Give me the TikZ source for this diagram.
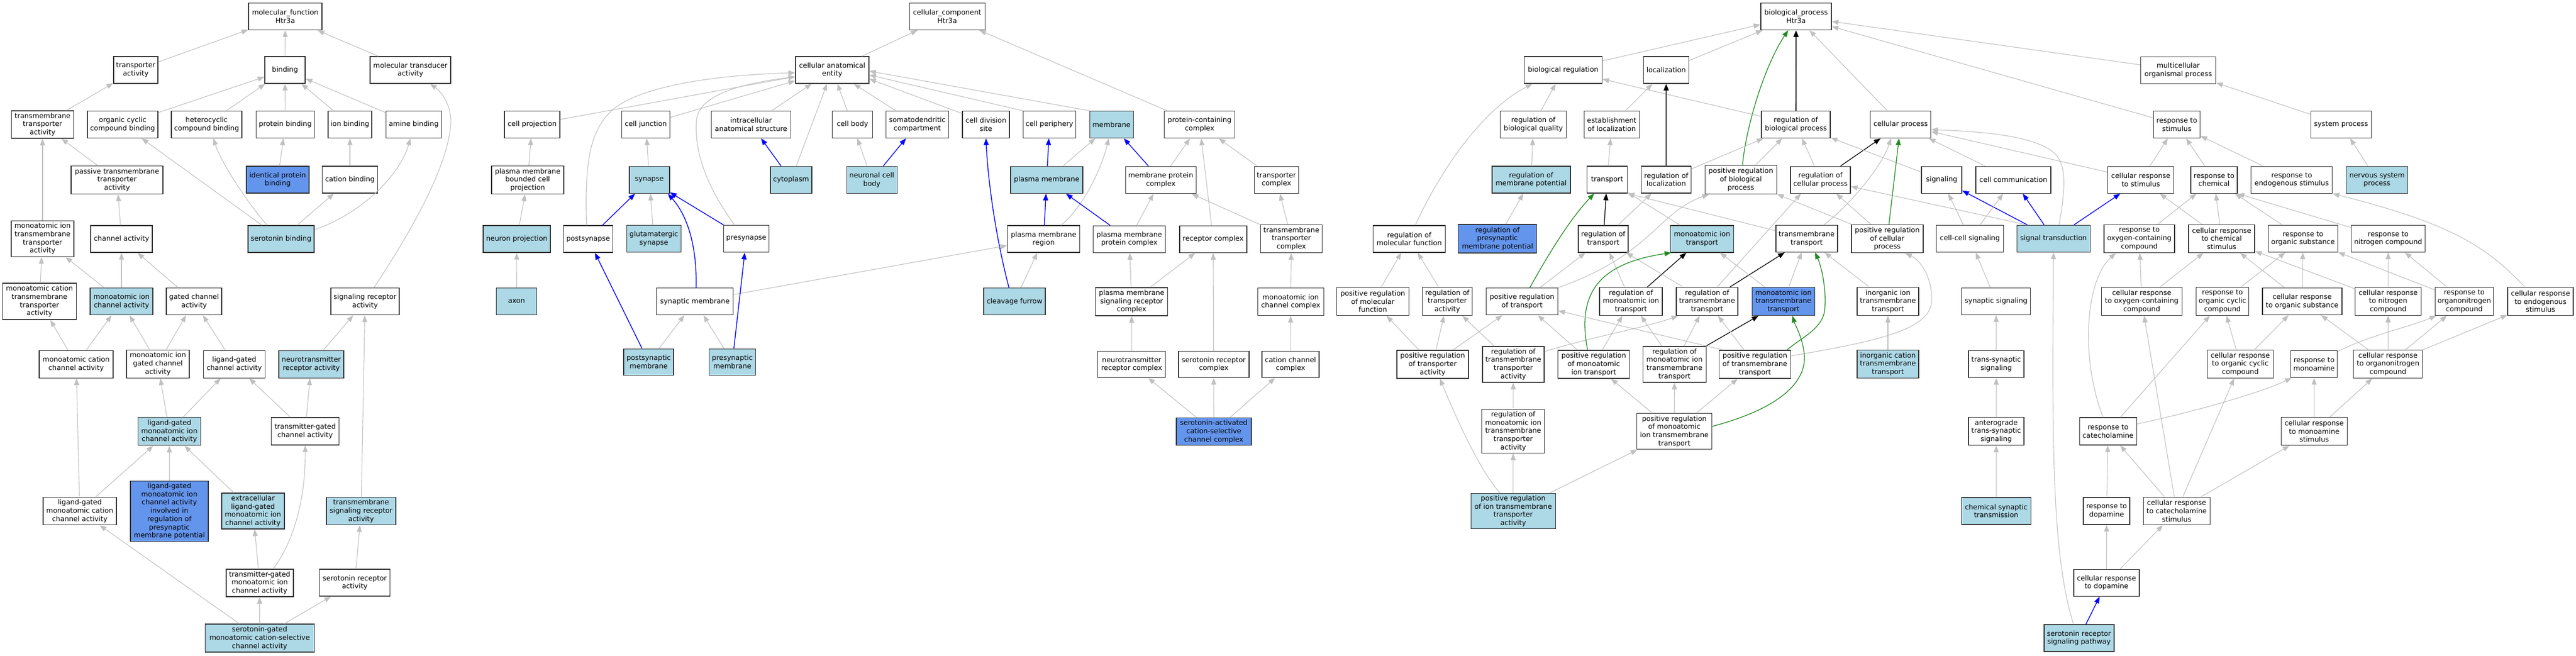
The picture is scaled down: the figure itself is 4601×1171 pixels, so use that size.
\documentclass[tikz,border=0pt]{standalone}
\usepackage{fontspec}
\setmainfont{DejaVu Sans}
\usetikzlibrary{arrows.meta}
\definecolor{lblue}{HTML}{ADD8E6}
\definecolor{cblue}{HTML}{6495ED}
\definecolor{egray}{RGB}{192,192,192}
\definecolor{fgreen}{HTML}{228B22}
\newcommand\GN[7]{\node[box,#7,minimum width=#4,minimum height=#5] (#1) at (#2,#3) {#6};}
\tikzset{
 box/.style={draw=black!80, line width=1.4pt, fill=white, align=center, inner xsep=1pt, inner ysep=0pt, font=\fontsize{12.4}{14.7}\selectfont, text=black},
 lb/.style={fill=lblue}, db/.style={fill=cblue},
 ge/.style={draw=egray, line width=1.1pt, -{Triangle[length=12pt,width=9pt]}},
 be/.style={draw=blue, line width=1.4pt, -{Triangle[length=12pt,width=9pt]}},
 ke/.style={draw=black, line width=1.3pt, -{Triangle[length=12pt,width=9pt]}},
 kk/.style={draw=black!70, line width=2.4pt, -{Triangle[length=12pt,width=9pt,color=black]}},
 gre/.style={draw=fgreen, line width=1.3pt, -{Triangle[length=12pt,width=9pt]}},
}
\begin{document}
\begin{tikzpicture}[x=1pt,y=-1pt]
\fill[white] (0,0) rectangle (4601,1171);
\useasboundingbox (0,0) rectangle (4601,1171);
% ---------------- molecular function
\GN{mf}{509.5}{29.5}{131}{48}{molecular\_function\\Htr3a}{}
\GN{ta}{242.5}{125}{79}{48}{transporter\\activity}{}
\GN{bind}{509}{125}{72}{48}{binding}{}
\GN{mta}{733}{125}{144}{48}{molecular transducer\\activity}{}
\GN{tmta}{76}{222.5}{111}{49}{transmembrane\\transporter\\activity}{}
\GN{occb}{219}{222.5}{126}{48}{organic cyclic\\compound binding}{}
\GN{hcb}{369}{222.5}{126}{48}{heterocyclic\\compound binding}{}
\GN{pb}{509.5}{222.5}{104}{48}{protein binding}{}
\GN{ionb}{625}{222.5}{78}{48}{ion binding}{}
\GN{amb}{739}{222.5}{99}{48}{amine binding}{}
\GN{ptta}{209}{321.5}{164}{50}{passive transmembrane\\transporter\\activity}{}
\GN{ipb}{496}{321}{112}{48}{identical protein\\binding}{db}
\GN{cb}{625}{321}{99}{48}{cation binding}{}
\GN{mitta}{76}{426.5}{112}{64}{monoatomic ion\\transmembrane\\transporter\\activity}{}
\GN{ca}{217}{427}{110}{48}{channel activity}{}
\GN{sb}{502}{427}{118}{48}{serotonin binding}{lb}
\GN{sra}{652}{538.6}{122}{48}{signaling receptor\\activity}{}
\GN{mctta}{70.5}{538.5}{132}{65}{monoatomic cation\\transmembrane\\transporter\\activity}{}
\GN{mica}{217}{538.6}{112}{48}{monoatomic ion\\channel activity}{lb}
\GN{gca}{346.6}{538.6}{99}{48}{gated channel\\activity}{}
\GN{mcca}{136}{650.7}{132}{49}{monoatomic cation\\channel activity}{}
\GN{migca}{282}{650.2}{112}{50}{monoatomic ion\\gated channel\\activity}{}
\GN{lgca}{418.4}{650.7}{110}{49}{ligand-gated\\channel activity}{}
\GN{nra}{556}{650.7}{116}{49}{neurotransmitter\\receptor activity}{lb}
\GN{lgmica}{302.5}{770.7}{112}{50}{ligand-gated\\monoatomic ion\\channel activity}{lb}
\GN{tgca}{545}{770.5}{121}{49}{transmitter-gated\\channel activity}{}
\GN{lgmcca}{142.5}{913}{131}{49}{ligand-gated\\monoatomic cation\\channel activity}{}
\GN{lgpre}{302.5}{913.2}{139}{108}{ligand-gated\\monoatomic ion\\channel activity\\involved in\\regulation of\\presynaptic\\membrane potential}{db}
\GN{elg}{451.8}{913}{112}{64}{extracellular\\ligand-gated\\monoatomic ion\\channel activity}{lb}
\GN{tsra}{645}{913}{124}{49}{transmembrane\\signaling receptor\\activity}{lb}
\GN{tgmica}{463.8}{1041.5}{120}{49}{transmitter-gated\\monoatomic ion\\channel activity}{}
\GN{srat}{633.6}{1041}{126}{48}{serotonin receptor\\activity}{}
\GN{sgm}{463.7}{1140}{195}{50}{serotonin-gated\\monoatomic cation-selective\\channel activity}{lb}
% ---------------- cellular component
\GN{cc}{1691.7}{29.3}{135}{48}{cellular\_component\\Htr3a}{}
\GN{cae}{1486.4}{125}{131}{48}{cellular anatomical\\entity}{}
\GN{pcc}{2142.6}{222.7}{126}{48}{protein-containing\\complex}{}
\GN{cp}{950.5}{222.5}{99}{48}{cell projection}{}
\GN{cj}{1153.5}{222.5}{86}{48}{cell junction}{}
\GN{ias}{1341.5}{222.5}{142}{48}{intracellular\\anatomical structure}{}
\GN{cbody}{1522.6}{222.5}{72}{48}{cell body}{}
\GN{sdc}{1638.4}{222.5}{112}{48}{somatodendritic\\compartment}{}
\GN{cds}{1761}{222.5}{84}{48}{cell division\\site}{}
\GN{cper}{1874.5}{222.5}{94}{48}{cell periphery}{}
\GN{mem}{1985.3}{222.5}{78}{48}{membrane}{lb}
\GN{pmbcp}{942.5}{321.5}{129}{50}{plasma membrane\\bounded cell\\projection}{}
\GN{syn}{1159.8}{321.3}{72}{48}{synapse}{lb}
\GN{cyto}{1413}{321.3}{74}{48}{cytoplasm}{lb}
\GN{ncb}{1557.2}{321.3}{90}{48}{neuronal cell\\body}{lb}
\GN{pm}{1869.5}{321.3}{129}{48}{plasma membrane}{lb}
\GN{mpc}{2073.3}{321.5}{126}{48}{membrane protein\\complex}{}
\GN{tc}{2279.8}{321.5}{79}{48}{transporter\\complex}{}
\GN{np}{923}{427}{120}{48}{neuron projection}{lb}
\GN{postsyn}{1050.5}{427}{88}{48}{postsynapse}{}
\GN{gs}{1167.8}{426.7}{97}{48}{glutamatergic\\synapse}{lb}
\GN{presyn}{1333}{426.7}{81}{48}{presynapse}{}
\GN{pmr}{1864}{427}{129}{48}{plasma membrane\\region}{}
\GN{pmpc}{2017.1}{427.2}{129}{48}{plasma membrane\\protein complex}{}
\GN{rc}{2166.8}{427.2}{120}{48}{receptor complex}{}
\GN{tmtc}{2306.5}{426.3}{110}{50}{transmembrane\\transporter\\complex}{}
\GN{axon}{922.6}{538.6}{72}{48}{axon}{lb}
\GN{synm}{1241.2}{538.6}{137}{48}{synaptic membrane}{}
\GN{cf}{1812.1}{538.6}{110}{48}{cleavage furrow}{lb}
\GN{pmsrc}{2021.2}{538.8}{129}{50}{plasma membrane\\signaling receptor\\complex}{}
\GN{micc}{2305.3}{539}{118}{49}{monoatomic ion\\channel complex}{}
\GN{postm}{1158.6}{646.7}{89}{47}{postsynaptic\\membrane}{lb}
\GN{prem}{1308}{646.7}{83}{47}{presynaptic\\membrane}{lb}
\GN{nrc}{2021.2}{651}{121}{47}{neurotransmitter\\receptor complex}{}
\GN{src}{2167.8}{651}{126}{47}{serotonin receptor\\complex}{}
\GN{ccc}{2305}{651}{102}{47}{cation channel\\complex}{}
\GN{sacc}{2168}{771.2}{134}{49}{serotonin-activated\\cation-selective\\channel complex}{db}
% ---------------- biological process
\GN{bp}{3207.9}{29.3}{126}{48}{biological\_process\\Htr3a}{}
\GN{breg}{2792}{125}{139}{48}{biological regulation}{}
\GN{loc}{2975.9}{125}{81}{48}{localization}{}
\GN{mop}{3890.5}{125.3}{134}{48}{multicellular\\organismal process}{}
\GN{rbq}{2738.7}{222.6}{118}{48}{regulation of\\biological quality}{}
\GN{eol}{2878.7}{222.6}{99}{48}{establishment\\of localization}{}
\GN{rbp}{3207.6}{222.5}{123}{48}{regulation of\\biological process}{}
\GN{cpr}{3394.7}{222.5}{108}{48}{cellular process}{}
\GN{rts}{3888}{222.5}{83}{48}{response to\\stimulus}{}
\GN{sp}{4181.3}{222.5}{108}{48}{system process}{}
\GN{rmp}{2734.8}{321}{140}{48}{regulation of\\membrane potential}{lb}
\GN{trans}{2870.5}{321}{72}{48}{transport}{}
\GN{rl}{2976}{321}{89}{48}{regulation of\\localization}{}
\GN{prbp}{3109.3}{321}{128}{51}{positive regulation\\of biological\\process}{}
\GN{rcp}{3251.6}{321.3}{107}{48}{regulation of\\cellular process}{}
\GN{sig}{3468.1}{321.3}{72}{48}{signaling}{}
\GN{ccom}{3596}{321.3}{134}{48}{cell communication}{}
\GN{crs}{3823.7}{321.3}{118}{48}{cellular response\\to stimulus}{}
\GN{rchem}{3954.5}{321.3}{83}{48}{response to\\chemical}{}
\GN{res}{4093.2}{321.3}{145}{48}{response to\\endogenous stimulus}{}
\GN{nsp}{4245.5}{321.3}{110}{48}{nervous system\\process}{lb}
\GN{rmf}{2517}{426.8}{129}{48}{regulation of\\molecular function}{}
\GN{rpmp}{2674.7}{426.4}{140}{51}{regulation of\\presynaptic\\membrane potential}{db}
\GN{rt}{2863.6}{426.8}{89}{48}{regulation of\\transport}{}
\GN{mit}{3040}{426.8}{113}{48}{monoatomic ion\\transport}{lb}
\GN{tt}{3226.8}{426.3}{110}{48}{transmembrane\\transport}{}
\GN{prcp}{3370.8}{426.6}{128}{50}{positive regulation\\of cellular\\process}{}
\GN{ccs}{3518.4}{426.3}{120}{48}{cell-cell signaling}{}
\GN{st}{3667.8}{426.3}{131}{48}{signal transduction}{lb}
\GN{roc}{3821}{426.3}{126}{50}{response to\\oxygen-containing\\compound}{}
\GN{crcs}{3968.1}{426.3}{118}{50}{cellular response\\to chemical\\stimulus}{}
\GN{ros}{4113.4}{426.3}{124}{48}{response to\\organic substance}{}
\GN{rnc}{4265.5}{426.3}{132}{48}{response to\\nitrogen compound}{}
\GN{prmf}{2452}{538.6}{129}{50}{positive regulation\\of molecular\\function}{}
\GN{rta}{2585}{538.5}{89}{50}{regulation of\\transporter\\activity}{}
\GN{prt}{2718.5}{538.5}{128}{48}{positive regulation\\of transport}{}
\GN{rmit}{2913}{538.5}{112}{50}{regulation of\\monoatomic ion\\transport}{}
\GN{rtt}{3049}{538.5}{110}{50}{regulation of\\transmembrane\\transport}{}
\GN{mitt}{3185.4}{538.4}{112}{50}{monoatomic ion\\transmembrane\\transport}{db}
\GN{iitt}{3372}{538.4}{110}{50}{inorganic ion\\transmembrane\\transport}{}
\GN{ss}{3565.2}{538.4}{123}{48}{synaptic signaling}{}
\GN{crocc}{3825.3}{538.4}{144}{50}{cellular response\\to oxygen-containing\\compound}{}
\GN{rocc}{3969.5}{538.4}{94}{50}{response to\\organic cyclic\\compound}{}
\GN{cros}{4111.8}{538.4}{142}{48}{cellular response\\to organic substance}{}
\GN{crnc}{4265.5}{538.4}{118}{50}{cellular response\\to nitrogen\\compound}{}
\GN{rono}{4401.4}{538.4}{104}{50}{response to\\organonitrogen\\compound}{}
\GN{cres}{4537.6}{538.4}{117}{50}{cellular response\\to endogenous\\stimulus}{}
\GN{prta}{2558.8}{650.9}{128}{50}{positive regulation\\of transporter\\activity}{}
\GN{rtta}{2702.9}{650.8}{110}{64}{regulation of\\transmembrane\\transporter\\activity}{}
\GN{prmit}{2846.6}{650.9}{128}{50}{positive regulation\\of monoatomic\\ion transport}{}
\GN{rmitt}{2990.8}{650.8}{113}{64}{regulation of\\monoatomic ion\\transmembrane\\transport}{}
\GN{prtt}{3134.5}{650.9}{128}{50}{positive regulation\\of transmembrane\\transport}{}
\GN{icitt}{3372}{650.5}{110}{50}{inorganic cation\\transmembrane\\transport}{lb}
\GN{tss}{3565.4}{650.7}{99}{48}{trans-synaptic\\signaling}{}
\GN{croccomp}{4001.4}{650.5}{118}{50}{cellular response\\to organic cyclic\\compound}{}
\GN{rmono}{4133.2}{650.5}{83}{48}{response to\\monoamine}{}
\GN{crono}{4265.2}{650.5}{123}{50}{cellular response\\to organonitrogen\\compound}{}
\GN{rmitta}{2702.7}{770.3}{112}{78}{regulation of\\monoatomic ion\\transmembrane\\transporter\\activity}{}
\GN{prmitt}{2990.5}{770.7}{134}{64}{positive regulation\\of monoatomic\\ion transmembrane\\transport}{}
\GN{ats}{3565.4}{770.5}{99}{50}{anterograde\\trans-synaptic\\signaling}{}
\GN{rcat}{3765.2}{770.5}{102}{49}{response to\\catecholamine}{}
\GN{crms}{4133.4}{770.4}{118}{50}{cellular response\\to monoamine\\stimulus}{}
\GN{pritta}{2702.7}{913}{151}{63}{positive regulation\\of ion transmembrane\\transporter\\activity}{lb}
\GN{cst}{3565.4}{913}{124}{48}{chemical synaptic\\transmission}{lb}
\GN{rdop}{3762.6}{913}{83}{48}{response to\\dopamine}{}
\GN{crcat}{3887.7}{913}{119}{49}{cellular response\\to catecholamine\\stimulus}{}
\GN{crdop}{3762.4}{1041.2}{117}{48}{cellular response\\to dopamine}{}
\GN{srsp}{3713.3}{1140}{125}{48}{serotonin receptor\\signaling pathway}{lb}
% ================= edges: molecular function
\draw[ge] (ta) -- (mf);
\draw[ge] (bind) -- (mf);
\draw[ge] (mta) -- (mf);
\draw[ge] (tmta) -- (ta);
\draw[ge] (occb) -- (bind);
\draw[ge] (hcb) -- (bind);
\draw[ge] (pb) -- (bind);
\draw[ge] (ionb) -- (bind);
\draw[ge] (amb) -- (bind);
\draw[ge] (ptta) -- (tmta);
\draw[ge] (ipb) -- (pb);
\draw[ge] (cb) -- (ionb);
\draw[ge] (mitta) -- (tmta);
\draw[ge] (ca) -- (ptta);
\draw[ge] (sb) -- (occb);
\draw[ge] ([xshift=-25pt]sb.north) .. controls (440,360) and (395,290) .. ([xshift=12pt]hcb.south);
\draw[ge] (sb) -- (cb);
\draw[ge] ([yshift=-8pt]sb.north east) .. controls (650,380) and (715,310) .. ([xshift=-6pt]amb.south);
\draw[ge] (mctta) -- (mitta);
\draw[ge] (mica) -- (mitta);
\draw[ge] (mica) -- (ca);
\draw[ge] (gca) -- (ca);
\draw[ge] ([xshift=16pt]sra.north) .. controls (730,420) and (800,300) .. (805,222) .. controls (807,190) and (790,165) .. ([xshift=35pt]mta.south);
\draw[ge] (mcca) -- (mctta);
\draw[ge] (mcca) -- (mica);
\draw[ge] (migca) -- (mica);
\draw[ge] (migca) -- (gca);
\draw[ge] (lgca) -- (gca);
\draw[ge] (nra) -- (sra);
\draw[ge] (lgmica) -- (migca);
\draw[ge] (lgmica) -- (lgca);
\draw[ge] (tgca) -- (lgca);
\draw[ge] (tgca) -- (nra);
\draw[ge] (lgmcca) -- (mcca);
\draw[ge] (lgmcca) -- (lgmica);
\draw[ge] (lgpre) -- (lgmica);
\draw[ge] (elg) -- (lgmica);
\draw[ge] (tsra) -- (sra);
\draw[ge] (tgmica) -- (elg);
\draw[ge] ([xshift=24pt]tgmica.north) .. controls (520,975) and (546,900) .. (tgca.south);
\draw[ge] (srat) -- (tsra);
\draw[ge] (sgm) -- (lgmcca);
\draw[ge] (sgm) -- (tgmica);
\draw[ge] (sgm) -- (srat);
% ================= edges: cellular component
\draw[ge] (cae) -- (cc);
\draw[ge] (pcc) -- (cc);
\draw[ge] (cp) -- (cae);
\draw[ge] (cj) -- (cae);
\draw[ge] (ias) -- (cae);
\draw[ge] (cbody) -- (cae);
\draw[ge] (sdc) -- (cae);
\draw[ge] ([yshift=-5pt]cds.north west) -- ([yshift=-16pt]cae.east);
\draw[ge] (cper.north west) -- ([yshift=-9pt]cae.east);
\draw[ge] (mem.north west) -- ([yshift=-2pt]cae.east);
\draw[ge] (cyto) -- (cae);
\draw[ge] ([xshift=-3pt]postsyn.north) .. controls (1045,300) and (1050,240) .. (1090,200) .. controls (1130,160) and (1250,135) .. ([yshift=-5pt]cae.west);
\draw[ge] ([xshift=-21pt]presyn.north) .. controls (1260,330) and (1240,270) .. (1244,215) .. controls (1248,170) and (1320,150) .. ([yshift=-12pt]cae.west);
\draw[ge] (pmbcp) -- (cp);
\draw[ge] (np) -- (pmbcp);
\draw[ge] (axon) -- (np);
\draw[ge] (syn) -- (cj);
\draw[be] (cyto) -- (ias);
\draw[be] (ncb) -- (sdc);
\draw[ge] (ncb) -- (cbody);
\draw[be] ([xshift=-10pt]cf.north) .. controls (1780,430) and (1765,330) .. (cds.south);
\draw[ge] (cf) -- (pmr);
\draw[be] (pm) -- (cper);
\draw[ge] (pm) -- (mem);
\draw[ge] ([xshift=31pt]pmr.north) .. controls (1935,370) and (1968,300) .. ([xshift=-5pt]mem.south);
\draw[be] (mpc) -- (mem);
\draw[ge] (mpc) -- (pcc);
\draw[ge] (rc) -- (pcc);
\draw[ge] (tc) -- (pcc);
\draw[be] (pmr) -- (pm);
\draw[be] (pmpc) -- (pm);
\draw[ge] (pmpc) -- (mpc);
\draw[ge] (tmtc) -- (mpc);
\draw[ge] (tmtc) -- (tc);
\draw[ge] (synm) -- (pmr);
\draw[be] (postsyn) -- (syn);
\draw[ge] (gs) -- (syn);
\draw[be] ([xshift=2pt]synm.north) .. controls (1245,450) and (1232,390) .. ([xshift=33pt]syn.south);
\draw[be] (presyn) -- (syn);
\draw[be] (postm) -- (postsyn);
\draw[be] (prem) -- (presyn);
\draw[ge] (postm) -- (synm);
\draw[ge] (prem) -- (synm);
\draw[ge] (pmsrc) -- (pmpc);
\draw[ge] (pmsrc) -- (rc);
\draw[ge] (nrc) -- (pmsrc);
\draw[ge] (src) -- (rc);
\draw[ge] (micc) -- (tmtc);
\draw[ge] (ccc) -- (micc);
\draw[ge] (sacc) -- (nrc);
\draw[ge] (sacc) -- (src);
\draw[ge] (sacc) -- (ccc);
% ================= edges: biological process
\draw[ge] (breg) -- (bp);
\draw[ge] (loc) -- (bp);
\draw[ge] (cpr) -- (bp);
\draw[ge] (mop) -- (bp);
\draw[ge] (rts) -- (bp);
\draw[kk] (rbp) -- (bp);
\draw[gre] ([xshift=3pt]prbp.north) .. controls (3118,230) and (3150,120) .. ([xshift=-14pt]bp.south);
\draw[ge] (rbq) -- (breg);
\draw[ge] ([xshift=11pt]rmf.north) .. controls (2565,320) and (2640,200) .. ([xshift=-55pt]breg.south);
\draw[ge] (rbp) -- (breg);
\draw[ge] (eol) -- (loc);
\draw[kk] (rl) -- (loc);
\draw[ge] (rl) -- (rbp);
\draw[ge] (rmp) -- (rbq);
\draw[ge] (rpmp) -- (rmp);
\draw[ge] (trans) -- (eol);
\draw[ge] (prbp) -- (rbp);
\draw[ke] (rt) -- (trans);
\draw[ge] (rt) -- (rl);
\draw[ge] (mit) -- (trans);
\draw[ge] (tt) -- (trans.south east);
\draw[gre] ([xshift=14pt]prt.north) .. controls (2765,455) and (2805,390) .. ([xshift=-23pt]trans.south);
\draw[ge] (prt) -- (rt);
\draw[ge] (prt.north east) .. controls (2950,455) and (2960,380) .. ([xshift=-57pt]prbp.south);
\draw[ke] (rcp) -- (cpr);
\draw[ge] (rcp) -- (rbp);
\draw[ge] (sig) -- (rbp);
\draw[ge] (ccom) -- (cpr);
\draw[ge] (crs) -- (cpr);
\draw[ge] (crs) -- (rts);
\draw[ge] ([xshift=10pt]st.north) .. controls (3688,340) and (3692,300) .. (3672,276) .. controls (3640,245) and (3560,236) .. ([yshift=-9pt]cpr.east);
\draw[be] (st) -- (sig);
\draw[be] (st) -- (ccom);
\draw[be] (st) -- (crs);
\draw[ge] ([xshift=18pt]st.north west) -- (rcp);
\draw[ge] ([xshift=31pt]tt.north) .. controls (3300,370) and (3360,300) .. ([xshift=-17pt]cpr.south);
\draw[gre] (prcp) -- (cpr);
\draw[ge] (prcp) -- (rcp);
\draw[ge] (prcp) -- (prbp);
\draw[ge] (ccs) -- (sig);
\draw[ge] (ccs) -- (ccom);
\draw[ge] (roc) -- (rchem);
\draw[ge] (crcs) -- (rchem);
\draw[ge] (crcs) -- (crs);
\draw[ge] (ros) -- (rchem);
\draw[ge] (rnc) -- (rchem.south east);
\draw[ge] (res) -- (rts);
\draw[ge] (rchem) -- (rts);
\draw[ge] (nsp) -- (sp);
\draw[ge] (sp) -- (mop);
\draw[ge] (rta) -- (rmf);
\draw[ge] (prmf) -- (rmf);
\draw[ge] (rmit) -- (rt);
\draw[ke] (rmit) -- (mit);
\draw[ge] (rtt) -- (rt);
\draw[ge] ([xshift=18pt]rtt.north) -- ([xshift=-35pt]rcp.south);
\draw[ke] (rtt) -- (tt);
\draw[ge] (mitt) -- (mit);
\draw[ge] (mitt) -- (tt);
\draw[ge] (iitt) -- (tt);
\draw[ge] (icitt) -- (iitt);
\draw[ge] (ss) -- (ccs);
\draw[ge] (tss) -- (ss);
\draw[ge] (ats) -- (tss);
\draw[ge] (cst) -- (ats);
\draw[ge] (crocc) -- (roc);
\draw[ge] (crocc) -- (crcs);
\draw[ge] (rocc) -- (ros);
\draw[ge] (cros) -- (ros);
\draw[ge] (cros) -- (crcs);
\draw[ge] (crnc) -- (crcs);
\draw[ge] (crnc) -- (rnc);
\draw[ge] (rono) -- (ros);
\draw[ge] (rono) -- (rnc);
\draw[ge] ([xshift=-28pt]cres.north) .. controls (4440,440) and (4380,400) .. (res.south east);
\draw[ge] (prta) -- (rta);
\draw[ge] (prta) -- (prmf);
\draw[ge] (prta) -- (prt);
\draw[ge] (rtta) -- (rta);
\draw[ge] ([yshift=-10pt]rtta.north east) .. controls (2850,600) and (2940,585) .. ([xshift=4pt]rtt.south west);
\draw[ge] (prmit) -- (prt);
\draw[ge] (prmit) -- (rmit);
\draw[gre] ([xshift=-11pt]prmit.north) .. controls (2815,520) and (2860,470) .. ([xshift=-55pt]mit.south);
\draw[ge] (rmitt) -- (rmit);
\draw[ge] (rmitt) -- (rtt);
\draw[ke] (rmitt) -- (mitt);
\draw[ge] (prtt) -- (rtt);
\draw[ge] ([xshift=8pt]prtt.north west) -- ([yshift=8pt]prt.south east);
\draw[gre] ([xshift=-7.5pt]prtt.north east) .. controls (3215,605) and (3250,590) .. (3258,560) .. controls (3264,530) and (3255,480) .. ([xshift=15pt]tt.south);
\draw[ge] ([yshift=15pt]prtt.east) .. controls (3350,610) and (3445,590) .. (3450,540) .. controls (3452,495) and (3430,465) .. ([xshift=32pt]prcp.south);
\draw[ge] (prmitt) -- (prmit);
\draw[ge] (prmitt) -- (rmitt);
\draw[ge] (prmitt) -- (prtt);
\draw[gre] ([yshift=9pt]prmitt.east) .. controls (3160,735) and (3232,690) .. (3222,628) .. controls (3218,600) and (3206,580) .. ([xshift=16pt]mitt.south);
\draw[ge] (rmitta) -- (rtta);
\draw[ge] ([xshift=-23pt]pritta.north) .. controls (2640,840) and (2590,720) .. ([xshift=13pt]prta.south);
\draw[ge] (pritta) -- (rmitta);
\draw[ge] (pritta) -- (prmitt);
\draw[ge] ([xshift=-10pt]srsp.north) .. controls (3665,990) and (3665,800) .. (st.south);
\draw[be] (srsp) -- (crdop);
\draw[ge] (crdop) -- (rdop);
\draw[ge] (crdop) -- (crcat);
\draw[ge] (rdop) -- (rcat);
\draw[ge] (crcat) -- (rcat);
\draw[ge] (crcat) -- (croccomp);
\draw[ge] (crcat) -- (crms);
\draw[ge] (crcat) -- (crocc);
\draw[ge] ([xshift=-9pt]rcat.north) .. controls (3715,640) and (3725,500) .. ([xshift=-42pt]roc.south);
\draw[ge] ([yshift=13pt]rcat.east) .. controls (3900,740) and (4030,705) .. ([xshift=-40pt]rmono.south);
\draw[ge] (rcat) -- (rocc);
\draw[ge] ([yshift=-2pt]rmono.north east) .. controls (4230,600) and (4300,585) .. ([xshift=-50pt]rono.south);
\draw[ge] (crms) -- (rmono);
\draw[ge] (crms) -- (crono);
\draw[ge] (croccomp) -- (rocc);
\draw[ge] (croccomp) -- (cros);
\draw[ge] (crono) -- (cros);
\draw[ge] (crono) -- (crnc);
\draw[ge] (crono) -- (rono);
\draw[ge] (crono) -- (cres);
\end{tikzpicture}
\end{document}
